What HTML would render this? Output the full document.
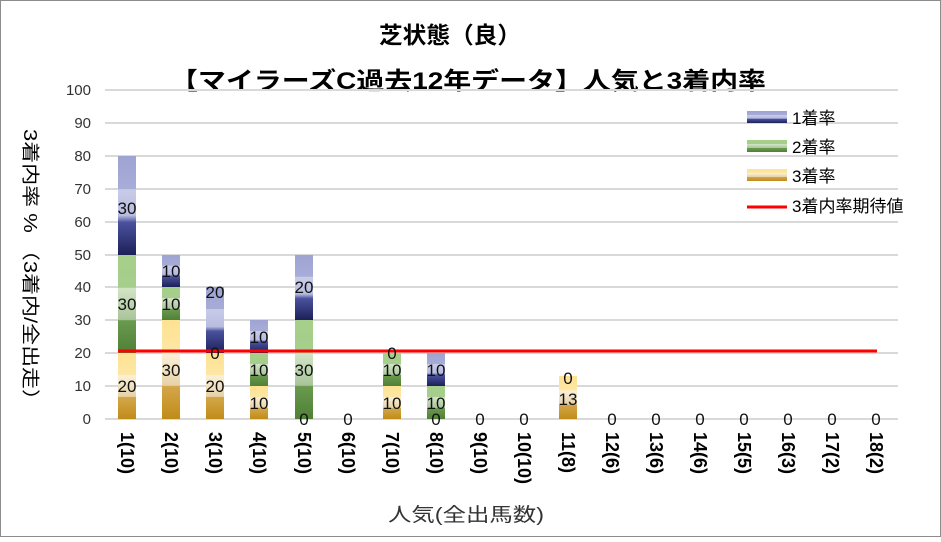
<!DOCTYPE html>
<html><head><meta charset="utf-8"><style>
body{margin:0;background:#fff}
text{font-family:"Liberation Sans","Noto Sans CJK JP",sans-serif}
</style></head><body>
<svg width="941" height="537" xmlns="http://www.w3.org/2000/svg">
<defs>
<linearGradient id="g1" x1="0" y1="0" x2="0" y2="1">
<stop offset="0" stop-color="#9ea3d2"/><stop offset="0.33" stop-color="#a7acd8"/><stop offset="0.34" stop-color="#c9cce8"/><stop offset="0.6" stop-color="#b8bce0"/><stop offset="0.67" stop-color="#4a529e"/><stop offset="1" stop-color="#1c2058"/></linearGradient>
<linearGradient id="g2" x1="0" y1="0" x2="0" y2="1">
<stop offset="0" stop-color="#a6d08a"/><stop offset="0.33" stop-color="#a6cd8c"/><stop offset="0.34" stop-color="#d2e5c6"/><stop offset="0.66" stop-color="#a9c49a"/><stop offset="0.67" stop-color="#6a9a4e"/><stop offset="1" stop-color="#4e8036"/></linearGradient>
<linearGradient id="g3" x1="0" y1="0" x2="0" y2="1">
<stop offset="0" stop-color="#fee291"/><stop offset="0.33" stop-color="#fde7a5"/><stop offset="0.34" stop-color="#fbf0d8"/><stop offset="0.66" stop-color="#e6d2a8"/><stop offset="0.67" stop-color="#d4a64a"/><stop offset="1" stop-color="#c08c18"/></linearGradient>
</defs>
<rect x="0.5" y="0.5" width="940" height="536" fill="#fff" stroke="#8c8c8c"/>
<text x="450" y="43" font-size="23" font-weight="bold" text-anchor="middle" textLength="142" lengthAdjust="spacingAndGlyphs">芝状態（良）</text>
<text x="468" y="89" font-size="24" font-weight="bold" text-anchor="middle" textLength="596" lengthAdjust="spacingAndGlyphs">【マイラーズC過去12年データ】人気と3着内率</text>
<g stroke="#d9d9d9" stroke-width="2">
<line x1="105" x2="898" y1="90" y2="90"/><line x1="105" x2="898" y1="123" y2="123"/><line x1="105" x2="898" y1="156" y2="156"/><line x1="105" x2="898" y1="189" y2="189"/><line x1="105" x2="898" y1="222" y2="222"/><line x1="105" x2="898" y1="255" y2="255"/><line x1="105" x2="898" y1="287" y2="287"/><line x1="105" x2="898" y1="320" y2="320"/><line x1="105" x2="898" y1="353" y2="353"/><line x1="105" x2="898" y1="386" y2="386"/><line x1="105" x2="898" y1="419" y2="419"/>
</g>
<g font-size="15" text-anchor="end" fill="#333">
<text x="91" y="95">100</text><text x="91" y="128">90</text><text x="91" y="161">80</text><text x="91" y="194">70</text><text x="91" y="227">60</text><text x="91" y="260">50</text><text x="91" y="292">40</text><text x="91" y="325">30</text><text x="91" y="358">20</text><text x="91" y="391">10</text><text x="91" y="424">0</text>
</g>
<text transform="translate(24,270) rotate(90)" font-size="18" text-anchor="middle" textLength="282" lengthAdjust="spacingAndGlyphs">3着内率 %  （3着内/全出走）</text>
<g>
<rect x="118" y="353" width="18" height="66" fill="url(#g3)"/><rect x="118" y="255" width="18" height="98" fill="url(#g2)"/><rect x="118" y="156" width="18" height="99" fill="url(#g1)"/>
<rect x="162" y="320" width="18" height="99" fill="url(#g3)"/><rect x="162" y="287" width="18" height="33" fill="url(#g2)"/><rect x="162" y="255" width="18" height="32" fill="url(#g1)"/>
<rect x="206" y="353" width="18" height="66" fill="url(#g3)"/><rect x="206" y="287" width="18" height="66" fill="url(#g1)"/>
<rect x="250" y="386" width="18" height="33" fill="url(#g3)"/><rect x="250" y="353" width="18" height="33" fill="url(#g2)"/><rect x="250" y="320" width="18" height="33" fill="url(#g1)"/>
<rect x="295" y="320" width="18" height="99" fill="url(#g2)"/><rect x="295" y="255" width="18" height="65" fill="url(#g1)"/>
<rect x="383" y="386" width="18" height="33" fill="url(#g3)"/><rect x="383" y="353" width="18" height="33" fill="url(#g2)"/>
<rect x="427" y="386" width="18" height="33" fill="url(#g2)"/><rect x="427" y="353" width="18" height="33" fill="url(#g1)"/>
<rect x="559" y="376" width="18" height="43" fill="url(#g3)"/>
</g>
<line x1="118" x2="877" y1="351" y2="351" stroke="#f00" stroke-width="3"/>
<g font-size="17" text-anchor="middle" fill="#111">
<text x="127" y="214">30</text><text x="127" y="310">30</text><text x="127" y="392">20</text>
<text x="171" y="277">10</text><text x="171" y="310">10</text><text x="171" y="376">30</text>
<text x="215" y="298">20</text><text x="215" y="359">0</text><text x="215" y="392">20</text>
<text x="259" y="343">10</text><text x="259" y="376">10</text><text x="259" y="409">10</text>
<text x="304" y="293">20</text><text x="304" y="376">30</text><text x="304" y="425">0</text>
<text x="348" y="425">0</text>
<text x="392" y="359">0</text><text x="392" y="376">10</text><text x="392" y="409">10</text>
<text x="436" y="376">10</text><text x="436" y="409">10</text><text x="436" y="425">0</text>
<text x="480" y="425">0</text><text x="524" y="425">0</text>
<text x="568" y="384">0</text><text x="568" y="405">13</text>
<text x="612" y="425">0</text><text x="656" y="425">0</text><text x="700" y="425">0</text><text x="744" y="425">0</text><text x="788" y="425">0</text><text x="832" y="425">0</text><text x="876" y="425">0</text>
</g>
<g font-size="18" font-weight="bold">
<text transform="translate(121,432) rotate(90)">1(10)</text>
<text transform="translate(165,432) rotate(90)">2(10)</text>
<text transform="translate(209,432) rotate(90)">3(10)</text>
<text transform="translate(253,432) rotate(90)">4(10)</text>
<text transform="translate(298,432) rotate(90)">5(10)</text>
<text transform="translate(342,432) rotate(90)">6(10)</text>
<text transform="translate(386,432) rotate(90)">7(10)</text>
<text transform="translate(430,432) rotate(90)">8(10)</text>
<text transform="translate(474,432) rotate(90)">9(10)</text>
<text transform="translate(518,432) rotate(90)">10(10)</text>
<text transform="translate(562,432) rotate(90)">11(8)</text>
<text transform="translate(606,432) rotate(90)">12(6)</text>
<text transform="translate(650,432) rotate(90)">13(6)</text>
<text transform="translate(694,432) rotate(90)">14(6)</text>
<text transform="translate(738,432) rotate(90)">15(5)</text>
<text transform="translate(782,432) rotate(90)">16(3)</text>
<text transform="translate(826,432) rotate(90)">17(2)</text>
<text transform="translate(870,432) rotate(90)">18(2)</text>
</g>
<text x="466" y="521" font-size="19" text-anchor="middle" fill="#333" textLength="156" lengthAdjust="spacingAndGlyphs">人気(全出馬数)</text>
<rect x="747" y="111" width="40" height="12" fill="url(#g1)"/><text x="792" y="124" font-size="17">1着率</text>
<rect x="747" y="140" width="40" height="12" fill="url(#g2)"/><text x="792" y="153" font-size="17">2着率</text>
<rect x="747" y="169" width="40" height="12" fill="url(#g3)"/><text x="792" y="182" font-size="17">3着率</text>
<line x1="747" x2="787" y1="207" y2="207" stroke="#f00" stroke-width="3"/><text x="792" y="212" font-size="17">3着内率期待値</text>
</svg>
</body></html>
